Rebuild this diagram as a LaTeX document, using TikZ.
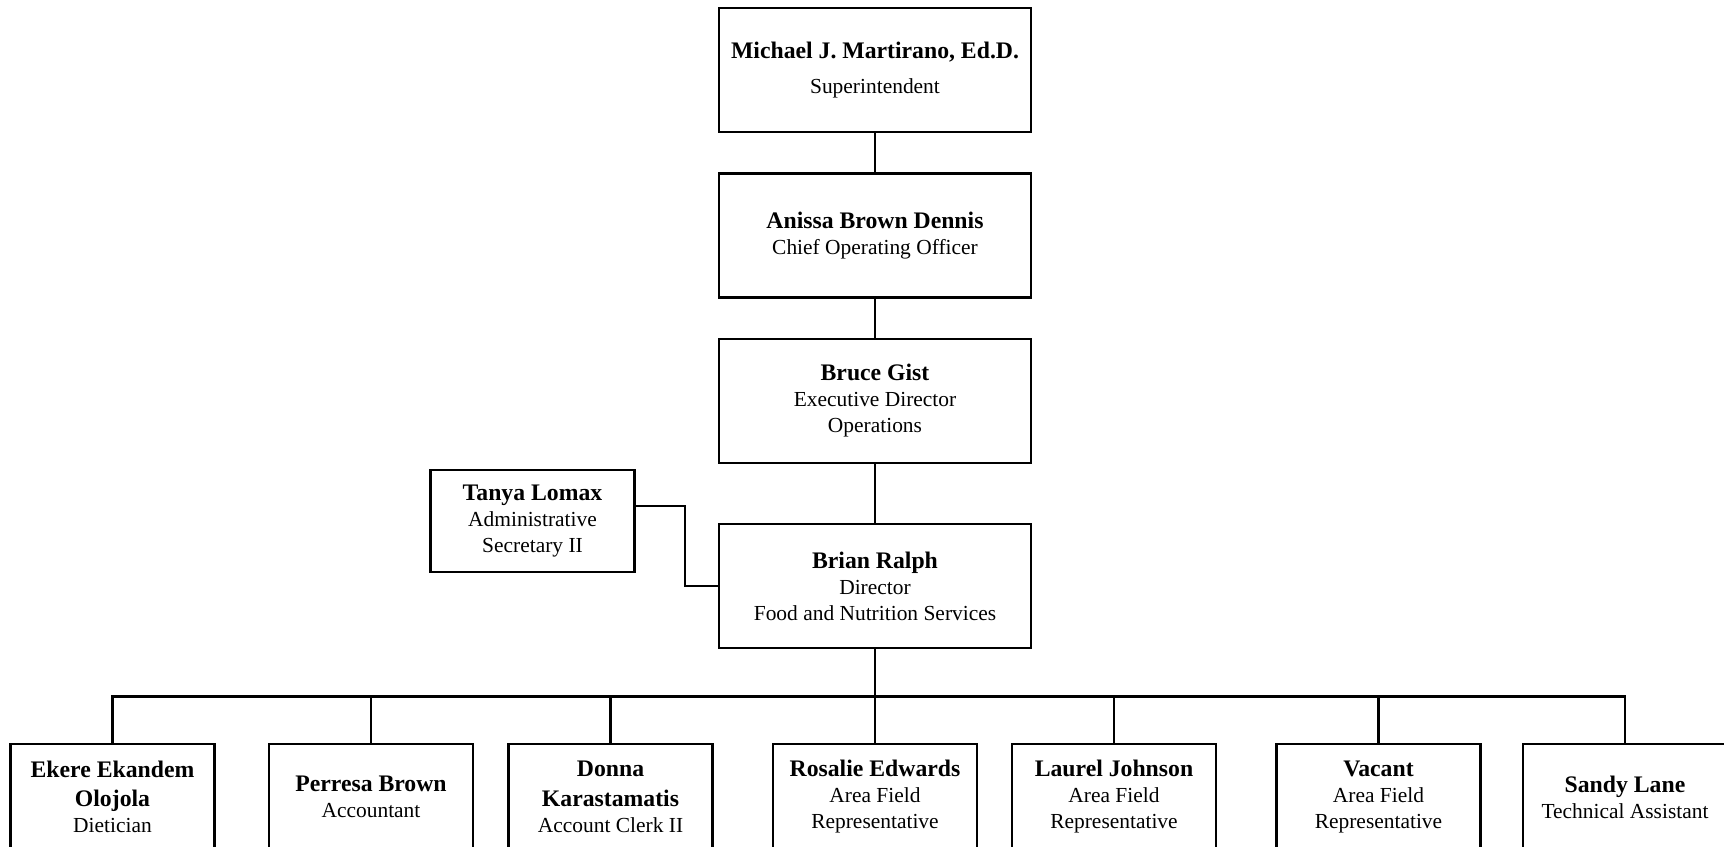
\documentclass[tikz,border=0pt]{standalone}
\usepackage{fontspec}
\setmainfont{Liberation Serif}
\usepackage{tikz}
\newcommand{\namefont}{\fontsize{13.5}{16}\selectfont\bfseries}
\newcommand{\rolefont}{\fontsize{12.2}{14.8}\selectfont}
\newcommand{\who}[1]{{\namefont #1}}
\tikzset{
  every node/.style={font=\rolefont},
  post/.style={draw=black,line width=1.5pt,fill=white,align=center,inner sep=0pt,
               minimum width=#1,minimum height=2.48cm},
  post/.default=6.24cm,
  staff/.style={post=4.08cm,minimum height=2.12cm},
  link/.style={line width=1.5pt,draw=black},
}

\begin{document}
\begin{tikzpicture}[x=1cm,y=1cm]
  \useasboundingbox (0,0) rectangle (34.48,-16.94);
  \fill[white] (0,0) rectangle (34.48,-16.94);
  \clip (0,0) rectangle (34.48,-16.94);

  % ---------- leadership column ----------
  \node[post] (super) at (17.5,-1.40)  {\who{Michael J. Martirano, Ed.D.}\\[5pt] Superintendent};
  \node[post] (coo)   at (17.5,-4.71)  {\who{Anissa Brown Dennis}\\ Chief Operating Officer};
  \node[post] (ops)   at (17.5,-8.02)  {\who{Bruce Gist}\\ Executive Director\\ Operations};
  \node[post] (brian) at (17.5,-11.72) {\who{Brian Ralph}\\ Director\\ Food and Nutrition Services};
  \node[staff,minimum height=2.04cm] (tanya) at (10.65,-10.42)
       {\who{Tanya Lomax}\\ Administrative\\ Secretary II};
  \draw[link] (super) -- (coo);
  \draw[link] (coo) -- (ops);
  \draw[link] (ops) -- (brian);
  \draw[link] ([yshift=3mm]tanya.east) -- ++(0.98,0) |- (brian.west);

  % ---------- staff row ----------
  \node[staff] (ekere)   at (2.25,-15.94)  {\who{Ekere Ekandem}\\[2pt] \who{Olojola}\\ Dietician};
  \node[staff] (perresa) at (7.42,-15.94)  {\who{Perresa Brown}\\ Accountant};
  \node[staff] (donna)   at (12.21,-15.94) {\who{Donna}\\[2pt] \who{Karastamatis}\\ Account Clerk II};
  \node[staff] (rosalie) at (17.5,-15.94)  {\who{Rosalie Edwards}\\ Area Field\\ Representative};
  \node[staff] (laurel)  at (22.28,-15.94) {\who{Laurel Johnson}\\ Area Field\\ Representative};
  \node[staff] (vacant)  at (27.57,-15.94) {\who{Vacant}\\ Area Field\\ Representative};
  \node[staff] (sandy)   at (32.5,-15.94)  {\who{Sandy Lane}\\ Technical Assistant};
  \coordinate (bus) at (17.5,-13.93);
  \draw[link] (brian) -- (rosalie);
  \draw[link] (ekere.north) -- (ekere.north |- bus) -- (sandy.north |- bus) -- (sandy.north);
  \foreach \n in {perresa,donna,laurel,vacant}
    \draw[link] (\n.north) -- (\n.north |- bus);
\end{tikzpicture}
\end{document}
